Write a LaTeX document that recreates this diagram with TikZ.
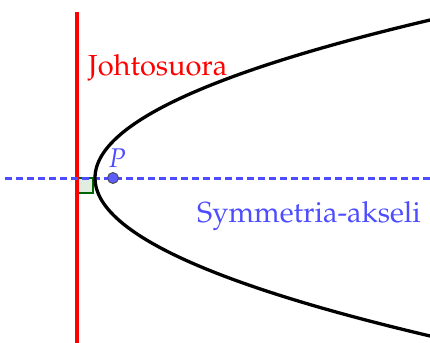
\documentclass[tikz,border=0pt]{standalone}
\usepackage[T1]{fontenc}
\usepackage{mathpazo}
\usepackage{xcolor}
\usepackage{tikz}
\usetikzlibrary{calc,positioning}
\definecolor{dirc}{HTML}{FF0000}
\definecolor{axc}{HTML}{4D4DFF}
\definecolor{ptc}{HTML}{5C5CFF}
\definecolor{angc}{HTML}{006400}
\definecolor{angbg}{HTML}{E2EDE2}
\tikzset{
  lbl/.style={font=\fontsize{29}{34}\selectfont,inner sep=0pt,anchor=base west},
  curve/.style={line width=3.3pt,black},
  dot/.style={circle,fill=ptc,draw=black!70,line width=0.9pt,inner sep=0pt,minimum size=11pt}
}

\begin{document}
\begin{tikzpicture}[x=1pt,y=-1pt]
\useasboundingbox (0,0) rectangle (430,342);
\coordinate (D) at (77,178);
\coordinate (F) at (113,178);
% suora kulma
\draw[angc,fill=angbg,line width=2.6pt] (D) rectangle ++(16,15);
\draw[dirc,line width=4pt] (77,12)--(77,345);
\draw[axc,line width=3pt,dash pattern=on 7pt off 4pt] (5,178)--(434,178);
% paraabeli
\draw[curve] plot[domain=-1.66:1.66,samples=120] ({95+134.23*\x*\x},{178+100*\x});
\node[dot] (P) at (F) {};
\node[lbl,axc,font=\fontsize{27}{32}\selectfont\itshape] (Plbl) at (109,167) {P};
\node[lbl,dirc] (dirlbl) at (88,76) {Johtosuora};
\node[lbl,axc] (axlbl) at (197,222) {Symmetria-akseli};
\end{tikzpicture}
\end{document}
